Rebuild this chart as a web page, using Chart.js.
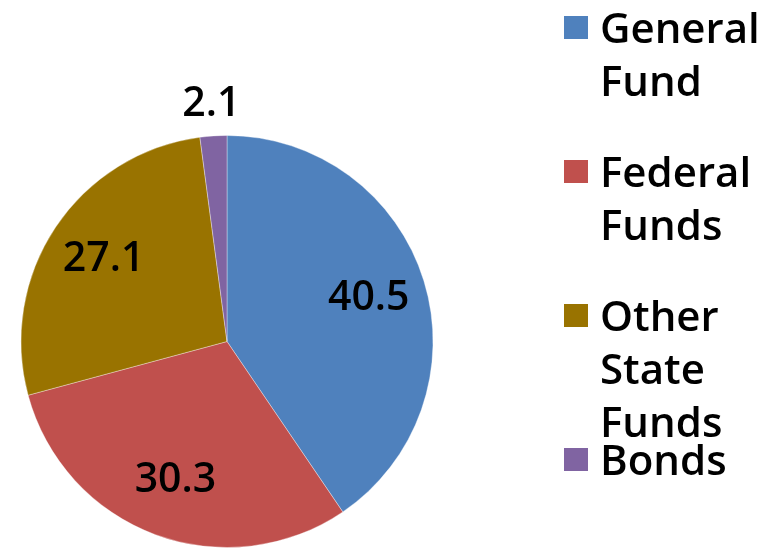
<!DOCTYPE html>
<html>
<head>
<meta charset="utf-8">
<script src="https://cdn.jsdelivr.net/npm/chart.js@4/dist/chart.umd.min.js"></script>
<style>
    html, body { margin: 0; padding: 0; background: #fff; }
    #wrap { position: relative; width: 782px; height: 548px; overflow: hidden; }
    #chart { position: absolute; left: 0; top: 0; }
    #legend { position: absolute; left: 0; top: 0; width: 782px; height: 548px; pointer-events: none; }
    .item { position: absolute; left: 564px; font-family: 'Open Sans', sans-serif; font-weight: 600; font-size: 42px; line-height: 53px; color: #000; }
    .item .box { position: absolute; left: 0; width: 24px; height: 23px; }
    .item .txt { position: absolute; left: 36px; white-space: nowrap; }
</style>
</head>
<body>
<div id="wrap">
    <canvas id="chart" width="782" height="548"></canvas>
    <div id="legend"></div>
</div>
<script>
const categories = ['General Fund', 'Federal Funds', 'Other State Funds', 'Bonds'];
const values = [40.5, 30.3, 27.1, 2.1];
const colors = ['#4F81BD', '#C0504D', '#997300', '#8064A2'];

// etiquetas de valor encima de cada porción
const sliceLabels = {
    id: 'sliceLabels',
    afterDatasetsDraw: (chart) => {
        const ctx = chart.ctx;
        const meta = chart.getDatasetMeta(0);
        const total = values.reduce((a, b) => a + b, 0);
        ctx.save();
        ctx.font = '600 41px "Open Sans", sans-serif';
        ctx.fillStyle = '#000';
        ctx.textAlign = 'center';
        ctx.textBaseline = 'middle';
        meta.data.forEach((arc, i) => {
            const p = arc.getProps(['x', 'y', 'startAngle', 'endAngle', 'outerRadius'], true);
            const mid = (p.startAngle + p.endAngle) / 2;
            // las porciones pequeñas van fuera del círculo
            const r = values[i] / total < 0.05 ? p.outerRadius + 32 : p.outerRadius * 0.72;
            ctx.fillText(values[i].toFixed(1), p.x + Math.cos(mid) * r, p.y + Math.sin(mid) * r);
        });
        ctx.restore();
    }
};

const config = {
    type: 'pie',
    data: {
        labels: categories,
        datasets: [{
            data: values,
            backgroundColor: colors,
            borderColor: 'rgba(255,255,255,0.35)',
            borderWidth: 1
        }]
    },
    options: {
        responsive: false,
        animation: false,
        layout: {
            padding: { left: 19, right: 347, top: 135, bottom: 0 }
        },
        plugins: {
            legend: { display: false },
            tooltip: { enabled: false },
            title: { display: false }
        }
    },
    plugins: [sliceLabels]
};

new Chart(document.getElementById('chart'), config);

// leyenda en HTML, una palabra por línea
const legend = document.getElementById('legend');
categories.forEach((label, i) => {
    const item = document.createElement('div');
    item.className = 'item';
    item.style.top = (144 * i) + 'px';
    item.innerHTML = '<div class="box" style="top:16px;background:' + colors[i] + '"></div>' +
        '<div class="txt">' + label.split(' ').join('<br>') + '</div>';
    legend.appendChild(item);
});
</script>
</body>
</html>
